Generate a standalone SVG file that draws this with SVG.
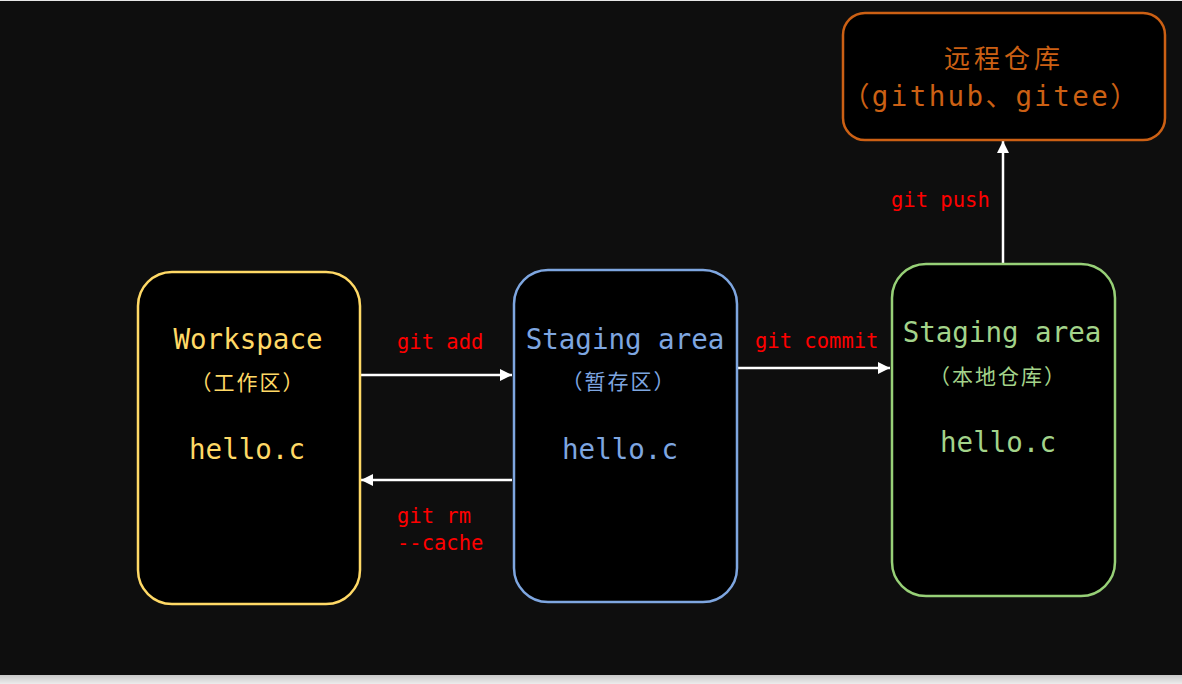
<svg xmlns="http://www.w3.org/2000/svg" width="1182" height="684" viewBox="0 0 1182 684">
<defs>
<style>
.bg{fill:#0e0e0e}
.box{fill:#000;stroke-width:2.5}
.t{font-family:"DejaVu Sans Mono","Liberation Mono","Noto Sans CJK SC",monospace;text-anchor:middle}
.big{font-size:27.5px}
.cn{font-family:"DejaVu Sans Mono","Noto Sans CJK SC",monospace;font-size:21px;letter-spacing:2px;text-anchor:middle}
.lbl{font-family:"DejaVu Sans Mono","Liberation Mono",monospace;font-size:20.5px;fill:#ff0000}
.edge{stroke:#fff;stroke-width:2.5;fill:none}
</style>
<marker id="ah" viewBox="0 0 12 12" refX="12" refY="6" markerWidth="12" markerHeight="12" markerUnits="userSpaceOnUse" orient="auto">
<path d="M0,0 L12,6 L0,12 z" fill="#fff"/>
</marker>
<linearGradient id="strip" x1="0" y1="0" x2="0" y2="1">
<stop offset="0" stop-color="#c8c8c8"/>
<stop offset="1" stop-color="#ececec"/>
</linearGradient>
</defs>
<rect x="0" y="0" width="1182" height="684" fill="#e6e6e6"/>
<rect x="0" y="675" width="1182" height="9" fill="url(#strip)"/>
<rect class="bg" x="0" y="1" width="1182" height="674"/>

<g id="connectors">
<line class="edge" x1="361" y1="375" x2="512" y2="375" marker-end="url(#ah)"/>
<line class="edge" x1="512" y1="480" x2="361" y2="480" marker-end="url(#ah)"/>
<line class="edge" x1="738" y1="368" x2="890" y2="368" marker-end="url(#ah)"/>
<line class="edge" x1="1003" y1="263" x2="1003" y2="141" marker-end="url(#ah)"/>
<text class="lbl" x="397" y="349">git add</text>
<text class="lbl" x="397" y="523">git rm</text>
<text class="lbl" x="397" y="550">--cache</text>
<text class="lbl" x="755" y="348">git commit</text>
<text class="lbl" x="891" y="207">git push</text>
</g>

<g id="workspace">
<rect class="box" x="138" y="272" width="222" height="332" rx="34" ry="34" stroke="#ffd966"/>
<text class="t big" x="248" y="349" fill="#ffd966">Workspace</text>
<text class="cn" x="248" y="390" fill="#ffd966">（工作区）</text>
<text class="t big" x="247" y="459" fill="#ffd966">hello.c</text>
</g>

<g id="staging">
<rect class="box" x="514" y="270" width="223" height="332" rx="34" ry="34" stroke="#7ea6e0"/>
<text class="t big" x="625" y="349" fill="#7ea6e0">Staging area</text>
<text class="cn" x="619" y="389" fill="#7ea6e0">（暂存区）</text>
<text class="t big" x="620" y="459" fill="#7ea6e0">hello.c</text>
</g>

<g id="local">
<rect class="box" x="892" y="264" width="223" height="332" rx="34" ry="34" stroke="#97d077"/>
<text class="t big" x="1002" y="342" fill="#a3d38a">Staging area</text>
<text class="cn" x="998" y="384" fill="#a3d38a">（本地仓库）</text>
<text class="t big" x="998" y="452" fill="#a3d38a">hello.c</text>
</g>

<g id="remote">
<rect class="box" x="843" y="13" width="322" height="127" rx="22" ry="22" stroke="#cc6014"/>
<text class="cn" x="1004" y="68" fill="#cc6014" style="font-size:26px;letter-spacing:4px">远程仓库</text>
<text class="t big" x="991" y="106" fill="#cc6014" style="letter-spacing:2.4px">（github、gitee）</text>
</g>
</svg>
